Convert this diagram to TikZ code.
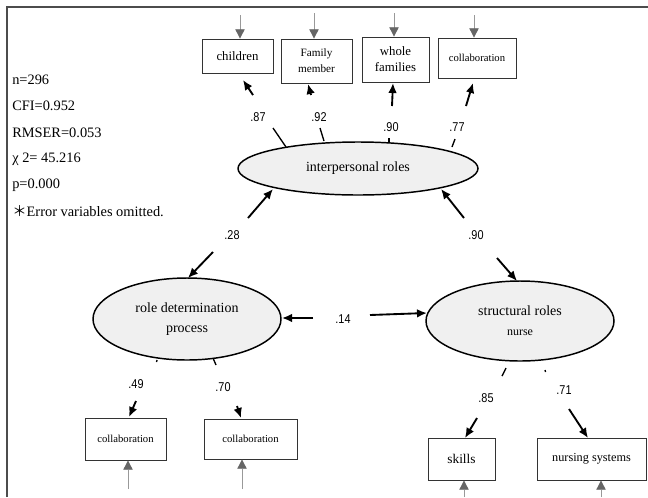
\documentclass[tikz,border=0pt]{standalone}
\usepackage{fontspec}
\setmainfont{Liberation Serif}
\newfontfamily\numfont[FakeStretch=0.85]{Liberation Sans}
\newfontfamily\cjkfont{Noto Sans CJK JP}
\usetikzlibrary{arrows.meta,shapes.geometric}
\begin{document}
\begin{tikzpicture}[x=0.75pt,y=-0.75pt,
  box/.style={draw=black!80,line width=0.6pt,fill=white,inner sep=0pt,align=center},
  lat/.style={ellipse,draw=black,line width=1.1pt,fill=black!6,inner sep=0pt,align=center,font=\fontsize{10.5}{15}\selectfont},
  err/.style={draw=black!40,line width=0.7pt,-{Triangle[length=7pt,width=7pt,color=black!60]}},
  arr/.style={line width=1.4pt,-{Latex[length=7.5pt,width=6.5pt]}},
  seg/.style={line width=1pt},
  num/.style={inner sep=0pt,font=\numfont\fontsize{9.6}{11}\selectfont},
  stat/.style={anchor=west,inner sep=0pt,font=\fontsize{10.8}{12}\selectfont}
]
\useasboundingbox (0,0) rectangle (648,497);
% frame
\draw[black!70,line width=1.1pt] (7,497) -- (7,7) -- (648,7);

% statistics
\node[stat] (s1) at (12,80) {n=296};
\node[stat] (s2) at (12,106) {CFI=0.952};
\node[stat] (s3) at (12,133) {RMSER=0.053};
\node[stat] (s4) at (12,159) {χ 2= 45.216};
\node[stat] (s5) at (12,185) {p=0.000};
\node[stat] (s6) at (12,211) {{\cjkfont ＊}Error variables omitted.};

% top boxes
\node[box,minimum width=53.25pt,minimum height=25.5pt,font=\fontsize{9.6}{12}\selectfont] (ch) at (237.5,56) {children};
\node[box,minimum width=53.25pt,minimum height=33pt,font=\fontsize{8.4}{12}\selectfont] (fm) at (316.5,61) {Family\\member};
\node[box,minimum width=50.25pt,minimum height=33.75pt,font=\fontsize{9.6}{12}\selectfont] (wf) at (395.5,59.5) {whole\\families};
\node[box,minimum width=58.5pt,minimum height=30pt,font=\fontsize{8}{10}\selectfont] (co1) at (477,58) {collaboration};

% error arrows top
\coordinate (e1) at (240,15);
\coordinate (e2) at (314,13);
\coordinate (e3) at (394,13);
\coordinate (e4) at (474,15);
\draw[err] (e1) -- (e1 |- ch.north);
\draw[err] (e2) -- (e2 |- fm.north);
\draw[err] (e3) -- (e3 |- wf.north);
\draw[err] (e4) -- (e4 |- co1.north);

% latent variables
\node[lat,minimum width=180pt,minimum height=39.75pt] (ip) at (358,168.5) {interpersonal roles};
\node[lat,minimum width=141pt,minimum height=61.5pt] (rd) at (187,319) {role determination\\process};
\node[lat,minimum width=141pt,minimum height=60pt] (sr) at (520,321) {structural roles\\{\fontsize{9}{15}\selectfont nurse}};

% top loadings
\coordinate (a1) at (286,147); \coordinate (b1) at (273,128);
\coordinate (c1) at (253,95);  \coordinate (d1) at (243,80);
\draw[seg] (a1) -- (b1); \draw[arr] (c1) -- (d1);
\node[num] (l1) at (258,117) {.87};

\coordinate (a2) at (324,141); \coordinate (b2) at (320,128);
\coordinate (c2) at (311,95);  \coordinate (d2) at (308,84);
\draw[seg] (a2) -- (b2); \draw[arr] (c2) -- (d2);
\node[num] (l2) at (319,117) {.92};

\coordinate (a3) at (389,142); \coordinate (b3) at (389,138);
\coordinate (c3) at (392,106); \coordinate (d3) at (393,83);
\draw[seg] (a3) -- (b3); \draw[arr] (c3) -- (d3);
\node[num] (l3) at (391,127) {.90};

\coordinate (a4) at (452,147); \coordinate (b4) at (455,139);
\coordinate (c4) at (466,106); \coordinate (d4) at (473,83);
\draw[seg] (a4) -- (b4); \draw[arr] (c4) -- (d4);
\node[num] (l4) at (457,127) {.77};

% correlations
\coordinate (p1) at (248,218); \coordinate (q1) at (273,189);
\coordinate (p2) at (213,252); \coordinate (q2) at (188,278);
\draw[arr] (p1) -- (q1); \draw[arr] (p2) -- (q2);
\node[num] (r1) at (232,235) {.28};

\coordinate (p3) at (464,218); \coordinate (q3) at (441,189);
\coordinate (p4) at (497,258); \coordinate (q4) at (517,281);
\draw[arr] (p3) -- (q3); \draw[arr] (p4) -- (q4);
\node[num] (r2) at (476,235) {.90};

\coordinate (p5) at (313,318); \coordinate (q5) at (282,318);
\coordinate (p6) at (370,315); \coordinate (q6) at (427,313);
\draw[arr] (p5) -- (q5); \draw[arr] (p6) -- (q6);
\node[num] (r3) at (343,319) {.14};

% bottom boxes
\node[box,minimum width=60.75pt,minimum height=31.5pt,font=\fontsize{8}{10}\selectfont] (co2) at (125.5,439) {collaboration};
\node[box,minimum width=69.75pt,minimum height=30pt,font=\fontsize{8}{10}\selectfont] (co3) at (250.5,439) {collaboration};
\node[box,minimum width=50.25pt,minimum height=31.5pt,font=\fontsize{10}{12}\selectfont] (sk) at (461.5,459) {skills};
\node[box,minimum width=81.75pt,minimum height=31.5pt,font=\fontsize{9.2}{12}\selectfont] (ns) at (591.5,459) {nursing systems};

% bottom error arrows
\coordinate (f1) at (128,489);
\coordinate (f2) at (242,489);
\coordinate (f3) at (464,497);
\coordinate (f4) at (601,497);
\draw[err] (f1) -- (f1 |- co2.south);
\draw[err] (f2) -- (f2 |- co3.south);
\draw[err] (f3) -- (f3 |- sk.south);
\draw[err] (f4) -- (f4 |- ns.south);

% bottom loadings
\coordinate (g1) at (157,360); \coordinate (h1) at (156.5,362);
\coordinate (i1) at (136,401); \coordinate (j1) at (129,417);
\draw[seg] (g1) -- (h1); \draw[arr] (i1) -- (j1);
\node[num] (m1) at (136,384) {.49};

\coordinate (g2) at (213,358); \coordinate (h2) at (216,365);
\coordinate (i2) at (237,406); \coordinate (j2) at (241,418);
\draw[seg] (g2) -- (h2); \draw[arr] (i2) -- (j2);
\node[num] (m2) at (223,387) {.70};

\coordinate (g3) at (506,368); \coordinate (h3) at (502,376);
\coordinate (i3) at (477,418); \coordinate (j3) at (465,438);
\draw[seg] (g3) -- (h3); \draw[arr] (i3) -- (j3);
\node[num] (m3) at (486,398) {.85};

\coordinate (g4) at (545,370); \coordinate (h4) at (545.5,372);
\coordinate (i4) at (569,409); \coordinate (j4) at (588,438);
\draw[seg] (g4) -- (h4); \draw[arr] (i4) -- (j4);
\node[num] (m4) at (564,390) {.71};
\end{tikzpicture}
\end{document}
